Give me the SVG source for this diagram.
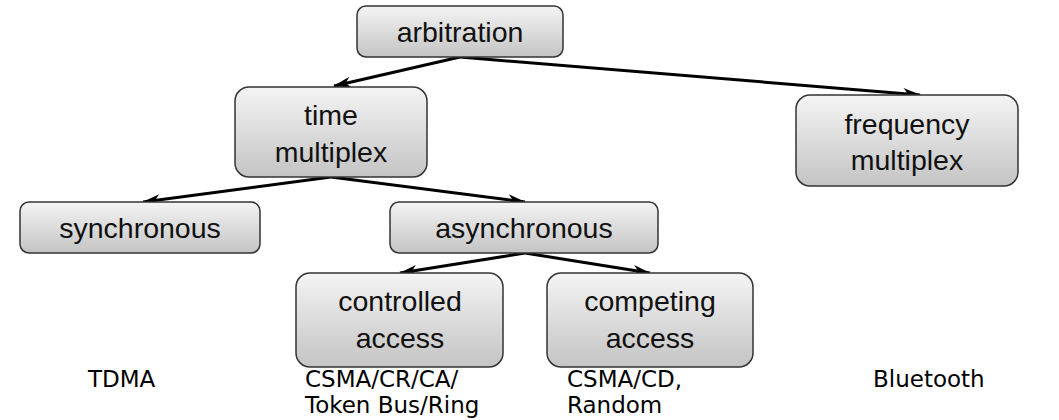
<svg xmlns="http://www.w3.org/2000/svg" width="1059" height="420" viewBox="0 0 1059 420">
<defs>
<linearGradient id="g" x1="0" y1="0" x2="0" y2="1">
<stop offset="0" stop-color="#f4f4f4"/>
<stop offset="1" stop-color="#c4c4c4"/>
</linearGradient>
<marker id="ah" markerUnits="userSpaceOnUse" markerWidth="18" markerHeight="12" viewBox="0 0 18 12" refX="17" refY="6" orient="auto">
<path d="M0,0.5 L18,6 L0,11.5 L5,6 z" fill="#000"/>
</marker>
<style>
.box{fill:url(#g);stroke:#333;stroke-width:1.5}
.t{font-family:"Liberation Sans",Arial,sans-serif;font-size:28.5px;fill:#111;text-anchor:middle}
.l{font-family:"DejaVu Sans",Verdana,sans-serif;font-size:23px;fill:#000}
.c{fill:none;stroke:#000;stroke-width:3;marker-end:url(#ah)}
</style>
</defs>
<g id="connectors">
<line class="c" x1="460" y1="57" x2="334" y2="86"/>
<line class="c" x1="460" y1="57" x2="920" y2="95"/>
<line class="c" x1="331" y1="177" x2="143" y2="202"/>
<line class="c" x1="331" y1="177" x2="525" y2="202"/>
<line class="c" x1="525" y1="253" x2="400" y2="273"/>
<line class="c" x1="525" y1="253" x2="650" y2="273"/>
</g>
<g id="arbitration">
<rect class="box" x="357" y="6" width="206" height="51" rx="9"/>
<text class="t" x="460" y="42">arbitration</text>
</g>
<g id="time-multiplex">
<rect class="box" x="235" y="87" width="192" height="90" rx="14"/>
<text class="t" x="331" y="125">time</text>
<text class="t" x="331" y="162">multiplex</text>
</g>
<g id="frequency-multiplex">
<rect class="box" x="796" y="95" width="222" height="91" rx="14"/>
<text class="t" x="907" y="134">frequency</text>
<text class="t" x="907" y="170">multiplex</text>
</g>
<g id="synchronous">
<rect class="box" x="20" y="202" width="240" height="51" rx="9"/>
<text class="t" x="140" y="238">synchronous</text>
</g>
<g id="asynchronous">
<rect class="box" x="390" y="202" width="268" height="51" rx="9"/>
<text class="t" x="524" y="238">asynchronous</text>
</g>
<g id="controlled-access">
<rect class="box" x="296" y="273" width="207" height="94" rx="14"/>
<text class="t" x="400" y="311">controlled</text>
<text class="t" x="400" y="348">access</text>
</g>
<g id="competing-access">
<rect class="box" x="547" y="273" width="206" height="94" rx="14"/>
<text class="t" x="650" y="311">competing</text>
<text class="t" x="650" y="348">access</text>
</g>
<g id="labels">
<text class="l" x="88" y="387">TDMA</text>
<text class="l" x="305" y="387">CSMA/CR/CA/</text>
<text class="l" x="305" y="413">Token Bus/Ring</text>
<text class="l" x="567" y="387">CSMA/CD,</text>
<text class="l" x="567" y="413">Random</text>
<text class="l" x="873" y="387">Bluetooth</text>
</g>
</svg>
